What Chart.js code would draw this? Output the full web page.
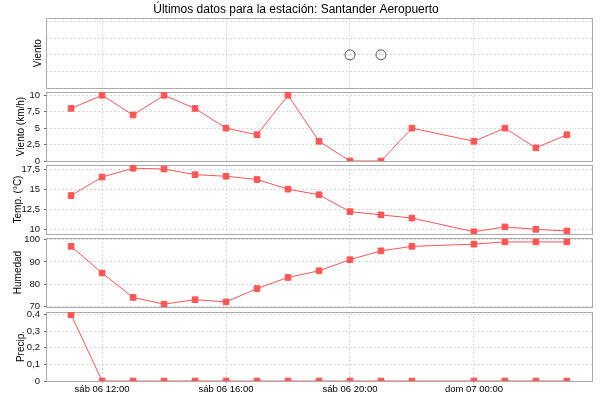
<!DOCTYPE html>
<html>
<head>
<meta charset="utf-8">
<script src="https://cdn.jsdelivr.net/npm/chart.js@4.4.1/dist/chart.umd.min.js"></script>
<style>
  html, body { margin: 0; padding: 0; background: #fff; }
  #wrap { position: relative; width: 600px; height: 400px; overflow: hidden; }
  #wrap canvas { position: absolute; left: 0; }
</style>
</head>
<body>
<div id="wrap">
  <canvas id="cDir"></canvas>
  <canvas id="cViento"></canvas>
  <canvas id="cTemp"></canvas>
  <canvas id="cHum"></canvas>
  <canvas id="cPrecip"></canvas>
</div>
<script>
// Santander Aeropuerto · últimas observaciones horarias
// horas contadas desde sáb 06 00:00 (falta la de las 23:00)
const horas   = [11, 12, 13, 14, 15, 16, 17, 18, 19, 20, 21, 22, 24, 25, 26, 27];
const viento  = [8, 10, 7, 10, 8, 5, 4, 10, 3, 0, 0, 5, 3, 5, 2, 4];
const temp    = [14.2, 16.5, 17.6, 17.5, 16.8, 16.6, 16.2, 15.0, 14.3, 12.2, 11.8, 11.4, 9.7, 10.3, 10.0, 9.8];
const humedad = [97, 85, 74, 71, 73, 72, 78, 83, 86, 91, 95, 97, 98, 99, 99, 99];
const precip  = [0.4, 0, 0, 0, 0, 0, 0, 0, 0, 0, 0, 0, 0, 0, 0, 0];

// ticks
const xTicks      = [12, 16, 20, 24];
const xTickLabels = ['sáb 06 12:00', 'sáb 06 16:00', 'sáb 06 20:00', 'dom 07 00:00'];
const dirTicks    = [0, 1, 2, 3, 4];
const vientoTicks = [0, 2.5, 5, 7.5, 10];
const tempTicks   = [10, 12.5, 15, 17.5];
const humTicks    = [70, 80, 90, 100];
const precipTicks = [0, 0.1, 0.2, 0.3, 0.4];

const RED = '#ff5555';
const GRID = '#d8d8d8';
const X_MIN = 10.19, X_MAX = 27.81;

Chart.defaults.font.family = '"Liberation Sans", Arial, sans-serif';
Chart.defaults.font.size = 9.5;
Chart.defaults.color = '#000';

// plot outline like the original (drawn under the series)
const outline = {
  id: 'outline',
  beforeDatasetsDraw(chart) {
    const { ctx, chartArea: a } = chart;
    ctx.save();
    ctx.strokeStyle = '#aaaaaa';
    ctx.lineWidth = 1;
    ctx.strokeRect(Math.round(a.left) + 0.5, Math.round(a.top) + 0.5,
      Math.round(a.right - a.left), Math.round(a.bottom - a.top));
    ctx.restore();
  }
};

const comma = v => String(v).replace('.', ',');

function xScale(showLabels) {
  return {
    type: 'linear', min: X_MIN, max: X_MAX,
    afterBuildTicks: s => { s.ticks = xTicks.map(v => ({ value: v })); },
    afterFit: s => { s.height = showLabels ? 19 : 0; },
    grid: { color: GRID, drawTicks: showLabels, tickLength: 2, tickColor: '#888', tickBorderDash: [] },
    border: { display: false, dash: [2, 2] },
    ticks: {
      display: showLabels, autoSkip: false, maxRotation: 0, padding: 1,
      callback: v => xTickLabels[xTicks.indexOf(v)]
    }
  };
}

function yScale(title, titlePad, min, max, ticks, showLabels) {
  return {
    min, max,
    afterBuildTicks: s => { s.ticks = ticks.map(v => ({ value: v })); },
    afterFit: s => { s.width = 46; },
    grid: { color: GRID, drawTicks: showLabels, tickLength: 2, tickColor: '#666', tickBorderDash: [] },
    border: { display: false, dash: [2, 2] },
    ticks: { display: showLabels, padding: 4, color: '#111', callback: comma },
    title: { display: true, text: title, padding: { top: titlePad, bottom: 0 }, font: { size: 10 } }
  };
}

function series(values, extra) {
  return Object.assign({
    data: horas.map((h, i) => ({ x: h, y: values[i] })),
    borderColor: RED, borderWidth: 1,
    pointStyle: 'rect', pointRadius: 4, pointHoverRadius: 4,
    pointBackgroundColor: RED, pointBorderColor: RED, pointBorderWidth: 1,
    clip: 0
  }, extra || {});
}

function panel(id, top, height, datasets, y, opts) {
  const el = document.getElementById(id);
  el.width = 600; el.height = height;
  el.style.top = top + 'px';
  return new Chart(el, {
    type: 'line',
    data: { datasets },
    options: Object.assign({
      responsive: false, animation: false, events: [],
      layout: { padding: { top: 10, bottom: 10, left: 0, right: 8 } },
      plugins: { legend: { display: false }, tooltip: { enabled: false }, title: { display: false } },
      scales: { x: xScale(false), y }
    }, opts || {}),
    plugins: [outline]
  });
}

// viento (dirección): sólo se ven los círculos de calma
const calmas = horas.filter((h, i) => viento[i] === 0).map(h => ({ x: h, y: 2 }));
panel('cDir', 0, 98, [{
  data: calmas, showLine: false, pointStyle: 'circle', pointRadius: 5,
  pointBackgroundColor: 'rgba(0,0,0,0)', pointBorderColor: '#555', pointBorderWidth: 1, clip: 0
}], yScale('Viento', 32, 0, 4.2, dirTicks, false), {
  layout: { padding: { top: 0, bottom: 10, left: 0, right: 8 } },
  plugins: {
    legend: { display: false }, tooltip: { enabled: false },
    title: {
      display: true, text: 'Últimos datos para la estación: Santander Aeropuerto',
      font: { size: 12, weight: 'normal' }, color: '#000', padding: { top: 2, bottom: 2 }
    }
  }
});

panel('cViento', 82, 89, [series(viento)], yScale('Viento (km/h)', 15, 0, 10.5, vientoTicks, true));
panel('cTemp', 155, 89, [series(temp)], yScale('Temp. (°C)', 12, 9.42, 18.0, tempTicks, true));
panel('cHum', 228, 89, [series(humedad)], yScale('Humedad', 12, 69.7, 100.77, humTicks, true));
panel('cPrecip', 302, 98, [series(precip)], yScale('Precip.', 15, 0, 0.416, precipTicks, true), {
  layout: { padding: { top: 10, bottom: 0, left: 0, right: 8 } },
  scales: { x: xScale(true), y: yScale('Precip.', 15, 0, 0.416, precipTicks, true) }
});
</script>
</body>
</html>
